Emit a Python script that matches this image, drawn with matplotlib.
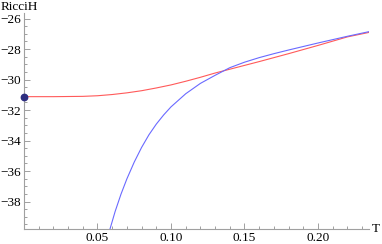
import matplotlib
matplotlib.use("Agg")
import matplotlib.pyplot as plt
from matplotlib.ticker import MultipleLocator, FixedLocator, FuncFormatter

plt.rcParams["font.family"] = "serif"
plt.rcParams["font.serif"] = ["Liberation Serif", "DejaVu Serif"]

# Data
T_red = [0.00, 0.02, 0.04, 0.05, 0.06, 0.07, 0.08, 0.09, 0.10, 0.11, 0.12,
         0.13, 0.14, 0.15, 0.16, 0.17, 0.18, 0.19, 0.20, 0.21, 0.22, 0.235]
R_red = [-31.12, -31.12, -31.10, -31.06, -30.98, -30.87, -30.73, -30.55,
         -30.35, -30.11, -29.85, -29.57, -29.32, -29.07, -28.82, -28.56,
         -28.30, -28.03, -27.76, -27.48, -27.20, -26.90]

T_blue = [0.0585, 0.062, 0.066, 0.070, 0.075, 0.080, 0.085, 0.090, 0.095,
          0.100, 0.110, 0.120, 0.130, 0.140, 0.150, 0.160, 0.170, 0.180,
          0.190, 0.200, 0.210, 0.220, 0.235]
R_blue = [-39.80, -38.65, -37.51, -36.51, -35.41, -34.45, -33.62, -32.92,
          -32.32, -31.79, -30.93, -30.25, -29.72, -29.22, -28.86, -28.56,
          -28.30, -28.06, -27.83, -27.60, -27.38, -27.16, -26.85]

dot_T = [0.0]
dot_R = [-31.12]

x_ticks = [0.05, 0.10, 0.15, 0.20]
y_ticks = [-38, -36, -34, -32, -30, -28, -26]

W, H = 382, 244
fig = plt.figure(figsize=(W / 100, H / 100), dpi=100)
left, right, bottom, top = 24, 369, 229, 12.5
ax = fig.add_axes([left / W, 1 - bottom / H, (right - left) / W, (bottom - top) / H])

ax.plot(T_red, R_red, color="#ff5a5a", lw=0.8, zorder=2)
ax.plot(T_blue, R_blue, color="#6a6aff", lw=0.8, zorder=3)
ax.plot(dot_T, dot_R, "o", color="#2e2e80", ms=4.6, zorder=5, clip_on=False)

ax.set_xlim(0, 0.2347)
ax.set_ylim(-39.8, -25.6)

for s in ["top", "right"]:
    ax.spines[s].set_visible(False)
for s in ["left", "bottom"]:
    ax.spines[s].set_color("#a0a0a0")
    ax.spines[s].set_linewidth(0.8)

ax.xaxis.set_major_locator(FixedLocator(x_ticks))
ax.xaxis.set_minor_locator(MultipleLocator(0.01))
ax.yaxis.set_major_locator(FixedLocator(y_ticks))
ax.yaxis.set_minor_locator(MultipleLocator(0.5))

ax.xaxis.set_major_formatter(FuncFormatter(lambda v, p: f"{v:.2f}"))
ax.yaxis.set_major_formatter(FuncFormatter(lambda v, p: f"\u2212{abs(v):.0f}"))
ax.tick_params(which="both", direction="in", color="#a0a0a0", width=0.7,
               labelsize=9.5)
ax.tick_params(which="major", length=4)
ax.tick_params(which="minor", length=2)
ax.tick_params(axis="x", pad=2)
ax.tick_params(axis="y", pad=2)

fig.text(1 / W, 1 - 1 / H, "RicciH", fontsize=9.5, ha="left", va="top")
fig.text(372 / W, 1 - 229 / H, "T", fontsize=9.5, ha="left", va="center")

fig.savefig("out.png", dpi=100)
